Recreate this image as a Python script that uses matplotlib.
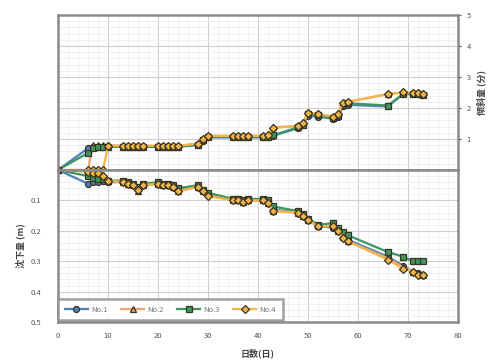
import numpy as np
import matplotlib.pyplot as plt
from matplotlib.ticker import MultipleLocator

plt.rcParams['font.family'] = ['Noto Sans CJK JP', 'DejaVu Sans']

# measurement days
days = [0, 6, 7, 8, 9, 10, 13, 14, 15, 16, 17, 20, 21, 22, 23, 24,
        28, 29, 30, 35, 36, 37, 38, 41, 42, 43, 48, 49, 50, 52,
        55, 56, 57, 58, 66, 69, 71, 72, 73]

names = ["No.1", "No.2", "No.3", "No.4"]
colors = ["#4f81bd", "#f2a46e", "#3f9560", "#f2b54a"]
markers = ["o", "^", "s", "D"]

# upper plot (right axis)
tilt1 = [0, 0.70, 0.75, 0.75, 0.75, 0.75, 0.75, 0.75, 0.75, 0.75, 0.75, 0.75, 0.75, 0.75, 0.75, 0.75,
         0.80, 0.95, 1.05, 1.05, 1.05, 1.05, 1.05, 1.05, 1.05, 1.10, 1.35, 1.45, 1.75, 1.72,
         1.65, 1.70, 2.05, 2.10, 2.05, 2.45, 2.45, 2.45, 2.42]
tilt2 = [0, 0.00, 0.80, 0.80, 0.80, 0.80, 0.78, 0.78, 0.78, 0.78, 0.78, 0.78, 0.78, 0.78, 0.78, 0.78,
         0.85, 1.00, 1.10, 1.10, 1.10, 1.10, 1.10, 1.10, 1.12, 1.38, 1.42, 1.50, 1.85, 1.80,
         1.72, 1.80, 2.15, 2.20, 2.45, 2.50, 2.48, 2.48, 2.45]
tilt3 = [0, 0.55, 0.72, 0.75, 0.75, 0.75, 0.75, 0.75, 0.75, 0.75, 0.75, 0.75, 0.75, 0.75, 0.75, 0.75,
         0.82, 0.98, 1.08, 1.08, 1.08, 1.08, 1.08, 1.06, 1.06, 1.12, 1.38, 1.45, 1.80, 1.76,
         1.68, 1.75, 2.10, 2.15, 2.08, 2.45, 2.45, 2.45, 2.42]
tilt4 = [0, 0.00, 0.00, 0.00, 0.00, 0.78, 0.78, 0.78, 0.78, 0.78, 0.78, 0.78, 0.78, 0.78, 0.78, 0.78,
         0.85, 1.00, 1.10, 1.10, 1.10, 1.10, 1.10, 1.10, 1.12, 1.35, 1.42, 1.50, 1.85, 1.80,
         1.72, 1.80, 2.15, 2.20, 2.45, 2.50, 2.48, 2.48, 2.45]

# lower plot (left axis, downward)
settle1 = [0, 0.045, 0.040, 0.040, 0.035, 0.040, 0.040, 0.045, 0.050, 0.060, 0.050, 0.045, 0.050, 0.050, 0.055, 0.065,
           0.055, 0.070, 0.080, 0.100, 0.100, 0.105, 0.100, 0.100, 0.110, 0.130, 0.140, 0.150, 0.165, 0.185,
           0.190, 0.200, 0.220, 0.230, 0.285, 0.315, 0.335, 0.340, 0.345]
settle2 = [0, 0.005, 0.010, 0.015, 0.025, 0.035, 0.040, 0.045, 0.050, 0.070, 0.050, 0.045, 0.050, 0.050, 0.055, 0.070,
           0.055, 0.070, 0.080, 0.100, 0.100, 0.105, 0.100, 0.100, 0.110, 0.135, 0.140, 0.150, 0.165, 0.185,
           0.185, 0.200, 0.220, 0.235, 0.290, 0.320, 0.335, 0.340, 0.345]
settle3 = [0, 0.020, 0.025, 0.030, 0.030, 0.035, 0.035, 0.040, 0.045, 0.055, 0.045, 0.040, 0.045, 0.045, 0.050, 0.060,
           0.050, 0.065, 0.075, 0.095, 0.095, 0.100, 0.095, 0.095, 0.100, 0.120, 0.135, 0.145, 0.160, 0.180,
           0.175, 0.190, 0.205, 0.215, 0.270, 0.285, 0.300, 0.300, 0.300]
settle4 = [0, 0.005, 0.010, 0.010, 0.020, 0.035, 0.040, 0.045, 0.050, 0.065, 0.050, 0.045, 0.050, 0.050, 0.055, 0.070,
           0.055, 0.070, 0.085, 0.100, 0.100, 0.105, 0.100, 0.100, 0.110, 0.135, 0.140, 0.150, 0.165, 0.185,
           0.185, 0.200, 0.225, 0.235, 0.295, 0.325, 0.335, 0.345, 0.345]

tilts = [tilt1, tilt2, tilt3, tilt4]
settles = [settle1, settle2, settle3, settle4]

spine_c = "#8a8a8a"

fig = plt.figure(figsize=(4.89, 3.63), dpi=100)
ax1 = fig.add_axes([0.1186, 0.5317, 0.818, 0.427])
ax2 = fig.add_axes([0.1186, 0.113, 0.818, 0.4187])

for i in range(4):
    ax1.plot(days, tilts[i], color=colors[i], marker=markers[i], ms=4.3, lw=1.6,
             mfc=colors[i], mec="#3b3220", mew=0.9, label=names[i])
    ax2.plot(days, settles[i], color=colors[i], marker=markers[i], ms=4.3, lw=1.6,
             mfc=colors[i], mec="#3b3220", mew=0.9, label=names[i])

for ax in (ax1, ax2):
    ax.set_xlim(0, 80)
    ax.xaxis.set_major_locator(MultipleLocator(10))
    ax.xaxis.set_minor_locator(MultipleLocator(2))
    ax.grid(which="major", color="#cfcfcf", lw=0.8)
    ax.grid(which="minor", color="#ececec", lw=0.5)
    ax.set_axisbelow(True)
    for s in ax.spines.values():
        s.set_color(spine_c)
        s.set_linewidth(1.8)
    ax.tick_params(which="minor", length=0)
    ax.tick_params(which="major", labelsize=5.5, colors="#555555", length=2.5, width=0.8)

# upper
ax1.set_ylim(0, 5)
ax1.yaxis.set_major_locator(MultipleLocator(1))
ax1.yaxis.set_minor_locator(MultipleLocator(0.2))
ax1.yaxis.tick_right()
ax1.yaxis.set_label_position("right")
ax1.set_yticks([1, 2, 3, 4, 5])
ax1.tick_params(axis="x", bottom=False, labelbottom=False)
ax1.set_ylabel("傾斜量 (分)", fontsize=6.5, color="#444444", fontweight="bold", labelpad=4)

# lower
ax2.set_ylim(0.5, 0)
ax2.yaxis.set_major_locator(MultipleLocator(0.1))
ax2.yaxis.set_minor_locator(MultipleLocator(0.02))
ax2.set_yticks([0.1, 0.2, 0.3, 0.4, 0.5])
ax2.set_yticklabels(["0.1", "0.2", "0.3", "0.4", "0.5"])
ax2.tick_params(axis="y", length=0, pad=12)
ax2.tick_params(axis="x", length=0, pad=7)
ax2.set_ylabel("沈下量 (m)", fontsize=6.5, color="#444444", fontweight="bold", labelpad=4)
ax2.set_xlabel("日数(日)", fontsize=6.5, color="#444444", fontweight="bold", labelpad=6)

leg = ax2.legend(loc="lower left", ncol=4, fontsize=5.5, frameon=True, fancybox=False,
                 bbox_to_anchor=(0.0, 0.01), borderaxespad=0, handlelength=3.0,
                 columnspacing=1.8, borderpad=0.9, handletextpad=0.4)
leg.get_frame().set_edgecolor(spine_c)
leg.get_frame().set_linewidth(1.8)
for t in leg.get_texts():
    t.set_color("#777777")

fig.savefig("out.png", dpi=100)
